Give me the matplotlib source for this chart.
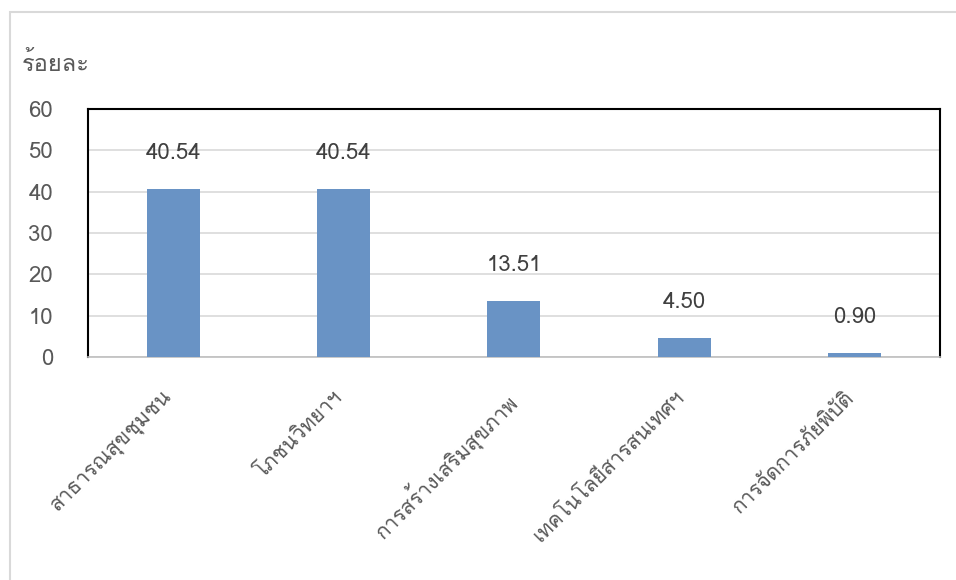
import matplotlib

matplotlib.use("Agg")
import matplotlib.pyplot as plt
from matplotlib import font_manager
from matplotlib.ft2font import FT2Font
from matplotlib.patches import Rectangle
from matplotlib.transforms import ScaledTranslation

categories = ["สาธารณสุขชุมชน", "โภชนวิทยาฯ", "การสร้างเสริมสุขภาพ",
              "เทคโนโลยีสารสนเทศฯ", "การจัดการภัยพิบัติ"]
percent = [40.54, 40.54, 13.51, 4.50, 0.90]
y_ticks = [0, 10, 20, 30, 40, 50, 60]
y_title = "ร้อยละ"

BAR = "#6993C5"
TXT = "#595959"
VAL = "#404040"
GRID = "#D9D9D9"


def thai_font():
    # pick the first installed family that has Thai glyphs
    for f in font_manager.fontManager.ttflist:
        try:
            if 0x0E01 in FT2Font(f.fname).get_charmap():
                return f.name
        except Exception:
            continue
    return "DejaVu Sans"


FAMILY = [thai_font(), "DejaVu Sans"]
plt.rcParams["font.family"] = FAMILY

fig = plt.figure(figsize=(9.56, 5.8), dpi=100)
ax = fig.add_axes([0.092, 0.3845, 0.891, 0.4275])

x = range(len(categories))
bars = ax.bar(x, percent, width=0.31, color=BAR, zorder=3)
for b, v in zip(bars, percent):
    ax.annotate(f"{v:.2f}", (b.get_x() + b.get_width() / 2, v),
                xytext=(0, 26), textcoords="offset points",
                ha="center", va="center", fontsize=16, color=VAL)

ax.set_xlim(-0.5, len(categories) - 0.5)
ax.set_ylim(0, 60)
ax.set_yticks(y_ticks)
ax.set_yticklabels([str(t) for t in y_ticks], fontsize=16, color=TXT)
ax.set_xticks(list(x))
ax.set_xticklabels(categories, rotation=45, ha="right", va="top",
                   rotation_mode="anchor", fontsize=15, color=TXT)
ax.tick_params(axis="both", length=0)
ax.tick_params(axis="y", pad=25)
ax.tick_params(axis="x", pad=22)
shift = ScaledTranslation(-10 / 100, 0, fig.dpi_scale_trans)
for lab in ax.get_xticklabels():
    lab.set_transform(lab.get_transform() + shift)

ax.grid(axis="y", color=GRID, lw=1.2, zorder=0)
for s in ("left", "top", "right"):
    ax.spines[s].set_color("black")
    ax.spines[s].set_linewidth(1.5)
ax.spines["bottom"].set_color("#BFBFBF")
ax.spines["bottom"].set_linewidth(1.2)

fig.text(22 / 956, 1 - 64 / 580, y_title, fontsize=17, color=TXT,
         ha="left", va="center")

# outer chart-area border
fig.patches.append(Rectangle((10 / 956, -0.1), 1.2, 1 - 12 / 580 + 0.1,
                             transform=fig.transFigure, fill=False,
                             edgecolor="#D9D9D9", lw=1.5))

fig.savefig("out.png", dpi=100)
